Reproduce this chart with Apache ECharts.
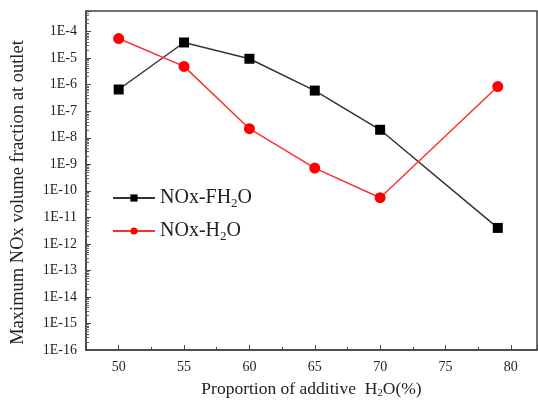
<!DOCTYPE html>
<html>
<head>
<meta charset="utf-8">
<script src="https://cdn.jsdelivr.net/npm/echarts@6/dist/echarts.min.js"></script>
<style>
  html, body { margin: 0; padding: 0; background: #fff; }
  #main { width: 538px; height: 404px; }
</style>
</head>
<body>
<div id="main"></div>
<script>
// additive H2O proportion (%)
const proportion = [50, 55, 60, 65, 70, 79];
// max NOx volume fraction at outlet
const noxFH2O = [6.6e-7, 3.9e-5, 9.5e-6, 6.0e-7, 2.0e-8, 4.0e-12];
const noxH2O = [5.5e-5, 4.9e-6, 2.2e-8, 7.2e-10, 5.5e-11, 8.5e-7];

const serif = "Liberation Serif";
const ink = "#222";

const toPairs = (xs, ys) => xs.map((x, i) => [x, ys[i]]);

var myChart = echarts.init(document.getElementById("main"));
var option = {
  animation: false,
  grid: {
    left: 86,
    top: 11,
    right: 1,
    bottom: 51,
    show: true,
    borderColor: "#444",
    borderWidth: 1.5,
  },
  legend: {
    left: 107,
    top: 183,
    orient: "vertical",
    itemWidth: 42,
    itemHeight: 9,
    itemGap: 11,
    data: ["NOx-FH2O", "NOx-H2O"],
    formatter: (name) => name.replace("H2O", "H{sub|2}O"),
    textStyle: {
      fontFamily: serif,
      fontSize: 20,
      color: ink,
      rich: {
        sub: { fontFamily: serif, fontSize: 13, verticalAlign: "bottom", padding: [11, 0, 0, 0] },
      },
    },
  },
  xAxis: {
    type: "value",
    min: 47.5,
    max: 82,
    splitNumber: 7,
    minInterval: 5,
    maxInterval: 5,
    name: "Proportion of additive  H{sub|2}O(%)",
    nameLocation: "middle",
    nameGap: 30,
    nameTextStyle: {
      fontFamily: serif,
      fontSize: 17.5,
      color: ink,
      rich: {
        sub: { fontFamily: serif, fontSize: 11, verticalAlign: "bottom", padding: [8, 0, 0, 0] },
      },
    },
    axisLine: { lineStyle: { color: "#444", width: 1.5 } },
    axisTick: { inside: true, length: 5, lineStyle: { color: "#444" } },
    minorTick: { show: true, splitNumber: 2, length: 3, lineStyle: { color: "#444" } },
    axisLabel: {
      showMinLabel: false,
      showMaxLabel: false,
      fontFamily: serif,
      fontSize: 14,
      color: ink,
      margin: 10,
    },
    splitLine: { show: false },
  },
  yAxis: {
    type: "log",
    logBase: 10,
    min: 1e-16,
    max: 6e-4,
    interval: 1,
    splitNumber: 12,
    name: "Maximum NOx volume fraction at outlet",
    nameLocation: "middle",
    nameGap: 58,
    nameTextStyle: { fontFamily: serif, fontSize: 18.5, color: ink, padding: [0, 24, 0, 0] },
    axisLine: { lineStyle: { color: "#444", width: 1.5 } },
    axisTick: { inside: true, length: 5, lineStyle: { color: "#444" } },
    minorTick: { show: true, splitNumber: 9, length: 3, lineStyle: { color: "#666" } },
    axisLabel: {
      showMaxLabel: false,
      fontFamily: serif,
      fontSize: 14,
      color: ink,
      margin: 9,
      formatter: (v) => "1E" + Math.round(Math.log10(v)),
    },
    splitLine: { show: false },
  },
  series: [
    {
      name: "NOx-FH2O",
      type: "line",
      symbol: "rect",
      symbolSize: 10,
      itemStyle: { color: "#000" },
      lineStyle: { color: "#333", width: 1.5 },
      data: toPairs(proportion, noxFH2O),
    },
    {
      name: "NOx-H2O",
      type: "line",
      symbol: "circle",
      symbolSize: 11,
      itemStyle: { color: "#ff0000" },
      lineStyle: { color: "#ff3030", width: 1.5 },
      data: toPairs(proportion, noxH2O),
    },
  ],
};
myChart.setOption(option);
</script>
</body>
</html>
